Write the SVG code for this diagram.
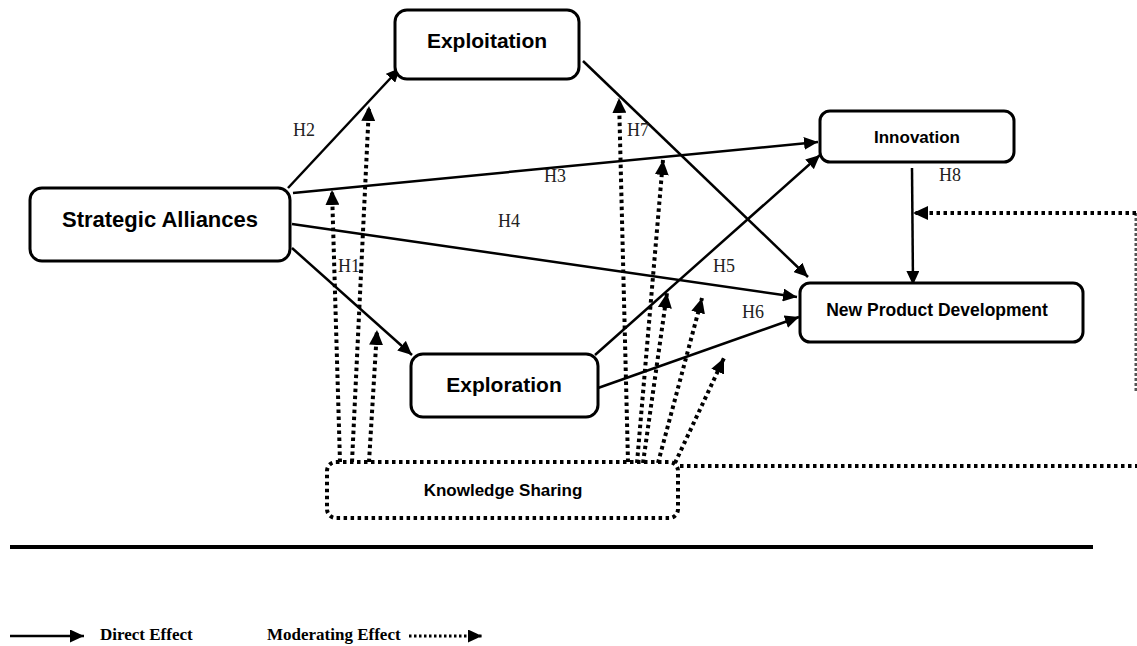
<svg xmlns="http://www.w3.org/2000/svg" width="1137" height="646" viewBox="0 0 1137 646">
  <style>
    .box { fill: #fff; stroke: #000; stroke-width: 3; }
    .dbox { fill: none; stroke: #000; stroke-width: 4; stroke-dasharray: 3.5 3.5; }
    .lbl { font-family: "Liberation Sans", Arial, sans-serif; font-weight: bold; fill: #000; text-anchor: middle; }
    .h { font-family: "Liberation Serif", "Times New Roman", serif; font-size: 18px; fill: #222; }
    .direct { fill: none; stroke: #000; stroke-width: 2.5; marker-end: url(#arr); }
    .mod { fill: none; stroke: #000; stroke-width: 4; stroke-dasharray: 3.5 3.5; marker-end: url(#arrm); }
    .leg { font-family: "Liberation Serif", "Times New Roman", serif; font-weight: bold; font-size: 17px; fill: #000; }
  </style>
  <defs>
    <marker id="arr" markerUnits="userSpaceOnUse" markerWidth="14" markerHeight="13" refX="14" refY="6.5" orient="auto">
      <path d="M0,0 L14,6.5 L0,13 z" fill="#000"/>
    </marker>
    <marker id="arrm" markerUnits="userSpaceOnUse" markerWidth="15" markerHeight="14" refX="15" refY="7" orient="auto">
      <path d="M0,0 L15,7 L0,14 z" fill="#000"/>
    </marker>
  </defs>
  <rect width="1137" height="646" fill="#fff"/>

  <!-- connectors -->
  <g id="connectors">
    <!-- direct effects -->
    <line class="direct" x1="288" y1="188" x2="400" y2="68"/>
    <line class="direct" x1="293" y1="193" x2="818" y2="142"/>
    <line class="direct" x1="292" y1="224" x2="797" y2="297"/>
    <line class="direct" x1="292" y1="248" x2="412" y2="355"/>
    <line class="direct" x1="583" y1="61" x2="808" y2="277"/>
    <line class="direct" x1="595" y1="355" x2="820" y2="155"/>
    <line class="direct" x1="598" y1="388" x2="799" y2="317"/>
    <line class="direct" x1="912" y1="168" x2="913" y2="285"/>

    <!-- moderating effects -->
    <line class="mod" x1="340" y1="462" x2="332" y2="190"/>
    <line class="mod" x1="352" y1="462" x2="369" y2="106"/>
    <line class="mod" x1="369" y1="462" x2="377" y2="330"/>
    <line class="mod" x1="628" y1="462" x2="619" y2="98"/>
    <line class="mod" x1="637" y1="463" x2="663" y2="160"/>
    <line class="mod" x1="643" y1="463" x2="667" y2="293"/>
    <line class="mod" x1="658" y1="463" x2="702" y2="298"/>
    <line class="mod" x1="675" y1="463" x2="724" y2="358"/>
    <line fill="none" stroke="#000" stroke-width="4" stroke-dasharray="3.5 3.5" x1="680" y1="466" x2="1137" y2="466"/>
    <line fill="none" stroke="#555" stroke-width="3" stroke-dasharray="3 2" x1="1136" y1="213" x2="1136" y2="392"/>
    <line class="mod" x1="1136" y1="213" x2="913" y2="213"/>
  </g>

  <!-- hypothesis labels -->
  <g id="labels">
    <text class="h" x="293" y="136">H2</text>
    <text class="h" x="544" y="182">H3</text>
    <text class="h" x="627" y="136">H7</text>
    <text class="h" x="498" y="227">H4</text>
    <text class="h" x="338" y="272">H1</text>
    <text class="h" x="939" y="181">H8</text>
    <text class="h" x="713" y="272">H5</text>
    <text class="h" x="742" y="318">H6</text>
  </g>

  <!-- nodes -->
  <g id="exploitation">
    <rect class="box" x="395" y="10" width="184" height="69" rx="12"/>
    <text class="lbl" x="487" y="48" font-size="21">Exploitation</text>
  </g>
  <g id="strategic-alliances">
    <rect class="box" x="30" y="188" width="260" height="73" rx="12"/>
    <text class="lbl" x="160" y="227" font-size="22">Strategic Alliances</text>
  </g>
  <g id="exploration">
    <rect class="box" x="411" y="354" width="187" height="63" rx="12"/>
    <text class="lbl" x="504" y="392" font-size="21">Exploration</text>
  </g>
  <g id="innovation">
    <rect class="box" x="820" y="111" width="194" height="51" rx="10"/>
    <text class="lbl" x="917" y="143" font-size="17">Innovation</text>
  </g>
  <g id="new-product-development">
    <rect class="box" x="800" y="283" width="283" height="59" rx="10"/>
    <text class="lbl" x="937" y="316" font-size="17.5">New Product Development</text>
  </g>
  <g id="knowledge-sharing">
    <rect class="dbox" x="327" y="462" width="351" height="56" rx="9"/>
    <text class="lbl" x="503" y="496" font-size="17">Knowledge Sharing</text>
  </g>

  <!-- divider -->
  <line x1="10" y1="547" x2="1093" y2="547" stroke="#000" stroke-width="4"/>

  <!-- legend -->
  <g id="legend">
    <line class="direct" x1="10" y1="636" x2="84" y2="636"/>
    <text class="leg" x="100" y="640">Direct Effect</text>
    <text class="leg" x="267" y="640">Moderating Effect</text>
    <line fill="none" stroke="#000" stroke-width="3" stroke-dasharray="2.5 2.5" marker-end="url(#arr)" x1="409" y1="636" x2="482" y2="636"/>
  </g>
</svg>
